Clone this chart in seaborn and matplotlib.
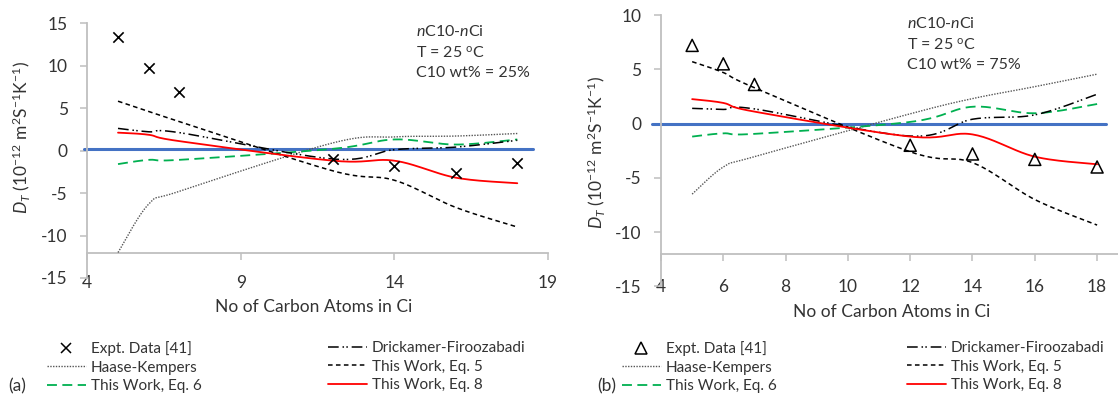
import numpy as np
import matplotlib
matplotlib.use("Agg")
import matplotlib.pyplot as plt
from matplotlib.lines import Line2D
import seaborn as sns

# ---------------- data ----------------
carbon = [5, 6, 7, 12, 14, 16, 18]

# panel (a): C10 wt% = 25%
a_expt = [13.4, 9.7, 6.9, -1.0, -1.8, -2.6, -1.5]
a_drick = [2.6, 2.2, 2.1, -1.0, 0.1, 0.4, 1.2]
a_haase = [-12.0, -6.3, -4.8, 0.9, 1.6, 1.7, 2.0]
a_eq5 = [5.8, 4.6, 3.4, -2.4, -3.5, -6.7, -9.0]
a_eq6 = [-1.6, -1.1, -1.1, 0.2, 1.3, 0.7, 1.3]
a_eq8 = [2.1, 1.85, 1.1, -1.2, -1.2, -3.2, -3.85]
a_zero_x = [3.9, 18.5]
a_zero_y = [0.2, 0.2]

# panel (b): C10 wt% = 75%
b_expt = [7.2, 5.5, 3.6, -2.0, -2.8, -3.3, -4.0]
b_drick = [1.4, 1.3, 1.35, -1.15, 0.4, 0.8, 2.7]
b_haase = [-6.5, -4.0, -3.05, 0.9, 2.3, 3.4, 4.55]
b_eq5 = [5.7, 4.7, 3.3, -2.6, -3.6, -7.0, -9.35]
b_eq6 = [-1.2, -0.9, -0.95, 0.15, 1.55, 0.95, 1.8]
b_eq8 = [2.25, 1.9, 1.1, -1.2, -1.0, -3.05, -3.75]
b_zero_x = [3.7, 18.3]
b_zero_y = [0.0, 0.0]

axis_cross = -12
a_xticks = [4, 9, 14, 19]
a_yticks = [-15, -10, -5, 0, 5, 10, 15]
b_xticks = [4, 6, 8, 10, 12, 14, 16, 18]
b_yticks = [-15, -10, -5, 0, 5, 10]

labels = ["Expt. Data [41]", "Haase-Kempers", "This Work, Eq. 6",
          "Drickamer-Firoozabadi", "This Work, Eq. 5", "This Work, Eq. 8"]

# ---------------- style ----------------
sns.set_theme(style="white")
plt.rcParams["font.family"] = ["Lato", "DejaVu Sans"]
plt.rcParams["mathtext.fontset"] = "custom"
plt.rcParams["mathtext.rm"] = "Lato"
plt.rcParams["mathtext.it"] = "Lato:italic"
plt.rcParams["mathtext.bf"] = "Lato:bold"

TXT = "#333333"
GRID = "#bfbfbf"
BLUE = "#4472c4"

ST = {
    "drick": dict(color="black", lw=1.1, linestyle=(0, (7, 2.5, 1, 1.5, 1, 2.5))),
    "haase": dict(color="#555555", lw=1.0, linestyle=(0, (1, 1))),
    "eq5": dict(color="black", lw=1.1, linestyle=(0, (3, 2.2))),
    "eq6": dict(color="#00b050", lw=1.3, linestyle=(0, (5.5, 3))),
    "eq8": dict(color="#ff0000", lw=1.3, linestyle="-"),
}


def smooth(xs, ys, n=24):
    """Excel-like smoothed line (Catmull-Rom Bezier) through the points."""
    P = np.column_stack([xs, ys]).astype(float)
    Pe = np.vstack([P[0], P, P[-1]])
    out = []
    t = np.linspace(0, 1, n)[:, None]
    for i in range(len(P) - 1):
        p0, p1, p2, p3 = Pe[i], Pe[i + 1], Pe[i + 2], Pe[i + 3]
        c1 = p1 + (p2 - p0) / 6.0
        c2 = p2 - (p3 - p1) / 6.0
        seg = ((1 - t) ** 3) * p1 + 3 * ((1 - t) ** 2) * t * c1 + 3 * (1 - t) * t ** 2 * c2 + t ** 3 * p2
        out.append(seg if i == 0 else seg[1:])
    S = np.vstack(out)
    return S[:, 0], S[:, 1]


W, H = 1118, 396
fig = plt.figure(figsize=(W / 100, H / 100), dpi=100)

# axes boxes in pixels: (x_left, x_right, y_top, y_bottom)
boxA = (87.3, 548.0, 23.0, 278.0)
boxB = (661.0, 1118.0, 15.0, 286.4)


def make_ax(box):
    x0, x1, y0, y1 = box
    return fig.add_axes([x0 / W, (H - y1) / H, (x1 - x0) / W, (y1 - y0) / H])


def draw_panel(ax, expt, drick, haase, eq5, eq6, eq8, zx, zy, marker, ms, xlim, ylim,
               xticks, yticks, xpad, note, xlab_pos, ylab_pos):
    sns.lineplot(x=zx, y=zy, ax=ax, color=BLUE, lw=2.2, clip_on=False, zorder=2)
    for key, vals in [("haase", haase), ("eq6", eq6), ("drick", drick), ("eq5", eq5), ("eq8", eq8)]:
        sx, sy = smooth(carbon, vals)
        sns.lineplot(x=sx, y=sy, ax=ax, sort=False, estimator=None, zorder=3, **ST[key])
    if marker == "x":
        sns.scatterplot(x=carbon, y=expt, ax=ax, marker="x", s=ms, color="black",
                        linewidth=1.2, zorder=5, legend=False)
    else:
        ax.scatter(carbon, expt, marker="^", s=ms, facecolors="none", edgecolors="black",
                   linewidths=1.1, zorder=5)
    ax.set_xlim(*xlim)
    ax.set_ylim(*ylim)
    ax.set_xticks(xticks)
    ax.set_yticks(yticks)
    ax.set_xticklabels([str(v) for v in xticks])
    ax.set_yticklabels([str(v) for v in yticks])
    for s in ["top", "right", "bottom"]:
        ax.spines[s].set_visible(False)
    ax.spines["left"].set_color(GRID)
    ax.spines["left"].set_linewidth(1.3)
    # tick labels sit at the bottom of the plot area ("low" labels)
    ax.tick_params(axis="x", length=0, labelsize=12.5, labelcolor=TXT, pad=xpad, bottom=True)
    ax.tick_params(axis="y", direction="out", length=5, width=1.1, color=GRID,
                   labelsize=12.5, labelcolor=TXT, pad=9, left=True)
    # horizontal axis line crossing at y = axis_cross
    frac = (axis_cross - ylim[0]) / (ylim[1] - ylim[0])
    sec = ax.secondary_xaxis(frac)
    sec.set_xticks(xticks)
    sec.set_xticklabels([])
    sec.spines["bottom"].set_color(GRID)
    sec.spines["bottom"].set_linewidth(1.3)
    sec.tick_params(axis="x", direction="out", length=5, width=1.1, color=GRID)
    ax.set_xlabel("No of Carbon Atoms in Ci", fontsize=12.5, color=TXT, va="center")
    ax.xaxis.set_label_coords(*xlab_pos)
    ax.set_ylabel(r"$\it{D_T}$ (10$^{-12}$ m$^{2}$S$^{-1}$K$^{-1}$)", fontsize=12.5,
                  color=TXT, va="center")
    ax.yaxis.set_label_coords(*ylab_pos)
    ax.text(note[0], note[1], note[2], transform=ax.transAxes, fontsize=11.5, color=TXT,
            va="top", ha="left", linespacing=1.45)
    ax.set_facecolor("white")


axA = make_ax(boxA)
draw_panel(axA, a_expt, a_drick, a_haase, a_eq5, a_eq6, a_eq8, a_zero_x, a_zero_y,
           "x", 55, (4, 19), (-15, 15), a_xticks, a_yticks, -2.2,
           ((416 - 87.3) / 460.7, (278 - 24) / 255,
            "$\\it{n}$C10-$\\it{n}$Ci\nT = 25 $^{\\mathrm{o}}$C\nC10 wt% = 25%"),
           (0.492, -0.114), (-0.144, 0.553))

axB = make_ax(boxB)
draw_panel(axB, b_expt, b_drick, b_haase, b_eq5, b_eq6, b_eq8, b_zero_x, b_zero_y,
           "^", 75, (4, 4 + (1118 - 661) / 31.15), (-15, 10), b_xticks, b_yticks, -5.3,
           ((907 - 661) / 457, (286.4 - 16) / 271.4,
            "$\\it{n}$C10-$\\it{n}$Ci\nT = 25 $^{\\mathrm{o}}$C\nC10 wt% = 75%"),
           (0.505, -0.095), (-0.142, 0.495))


def handles(marker, ms):
    h_expt = Line2D([], [], linestyle="none", marker=marker, markersize=ms,
                    markerfacecolor="none", markeredgecolor="black", markeredgewidth=1.1, color="black")
    return [h_expt,
            Line2D([], [], **ST["haase"]),
            Line2D([], [], **ST["eq6"]),
            Line2D([], [], **ST["drick"]),
            Line2D([], [], **ST["eq5"]),
            Line2D([], [], **ST["eq8"])]


def add_legend(hs, labs, x, y):
    leg = fig.legend(hs, labs, loc="upper left", bbox_to_anchor=(x / W, 1 - y / H),
                     frameon=False, fontsize=11, borderpad=0, borderaxespad=0,
                     handlelength=2.55, handletextpad=0.3, labelspacing=0.3)
    for t in leg.get_texts():
        t.set_color(TXT)
    return leg


hA = handles("x", 7.5)
add_legend(hA[:3], labels[:3], 47, 341)
add_legend(hA[3:], labels[3:], 328, 341)
hB = handles("^", 8.5)
add_legend(hB[:3], labels[:3], 622, 341)
add_legend(hB[3:], labels[3:], 907, 341)

fig.text(8 / W, 1 - 386 / H, "(a)", fontsize=12.5, color=TXT, va="center", ha="left")
fig.text(597 / W, 1 - 386 / H, "(b)", fontsize=12.5, color=TXT, va="center", ha="left")

fig.savefig("out.png", dpi=100, facecolor="white")
